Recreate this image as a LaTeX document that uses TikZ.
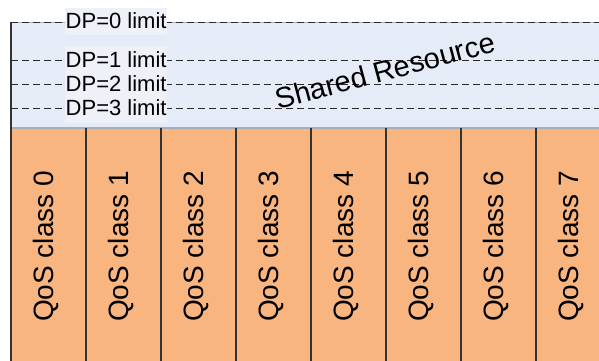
\documentclass[tikz,border=0pt]{standalone}
\usepackage{fontspec}
\setmainfont{Liberation Sans}
\definecolor{sharedfill}{HTML}{E6ECF7}
\definecolor{labelbg}{HTML}{EEF1F8}
\definecolor{qosfill}{HTML}{F8B580}
\definecolor{coldark}{HTML}{333333}
\definecolor{dashdark}{HTML}{2A2A2A}
\definecolor{edgegray}{HTML}{A8ACB4}
\begin{document}
\begin{tikzpicture}[x=1pt,y=-1pt,
  colline/.style={draw=coldark,line width=1.5pt},
  limline/.style={draw=dashdark,line width=0.9pt,dash pattern=on 7pt off 4pt},
  dplbl/.style={font=\fontsize{22}{22}\selectfont,inner sep=0pt,anchor=west},
  qoslbl/.style={font=\fontsize{28}{28}\selectfont,rotate=90,anchor=base,inner sep=0pt},
  sharedlbl/.style={font=\fontsize{29}{29}\selectfont,rotate=15,inner sep=0pt}]
\useasboundingbox (0,0) rectangle (599,360);
% shared resource area
\coordinate (stl) at (11,22);
\coordinate (sbr) at (610,128);
\fill[sharedfill] (stl) rectangle (sbr);
% QoS columns
\fill[qosfill] (11,128) rectangle (611,370);
\foreach \i in {0,...,7}{
  \coordinate (c\i) at ({11+75*\i},128);
}
% limit lines
\draw[edgegray,line width=0.9pt] (11,22) -- (599,22);
\draw[limline] (11,22) -- (599,22);
\draw[limline] (11,60) -- (599,60);
\draw[limline] (11,84) -- (599,84);
\draw[limline] (11,108) -- (599,108);
% label backgrounds
\fill[labelbg] (65,8) rectangle (167,35);
\fill[labelbg] (65,46) rectangle (167,123);
\node[dplbl] (dp0) at (65.5,21) {DP=0 limit};
\node[dplbl] (dp1) at (65.5,60) {DP=1 limit};
\node[dplbl] (dp2) at (65.5,84) {DP=2 limit};
\node[dplbl] (dp3) at (65.5,108) {DP=3 limit};
\node[sharedlbl] (shared) at (385,70.5) {Shared Resource};
% borders
\draw[edgegray,line width=1.2pt] (11,128) -- (599,128);
\draw[colline] (11,22) -- (11,128);
\foreach \i in {0,...,7}{
  \draw[colline] (c\i) -- ++(0,240);
  \node[qoslbl] (q\i) at ({11+75*\i+37.5+4.5},246.5) {QoS class \i};
}
\end{tikzpicture}
\end{document}
